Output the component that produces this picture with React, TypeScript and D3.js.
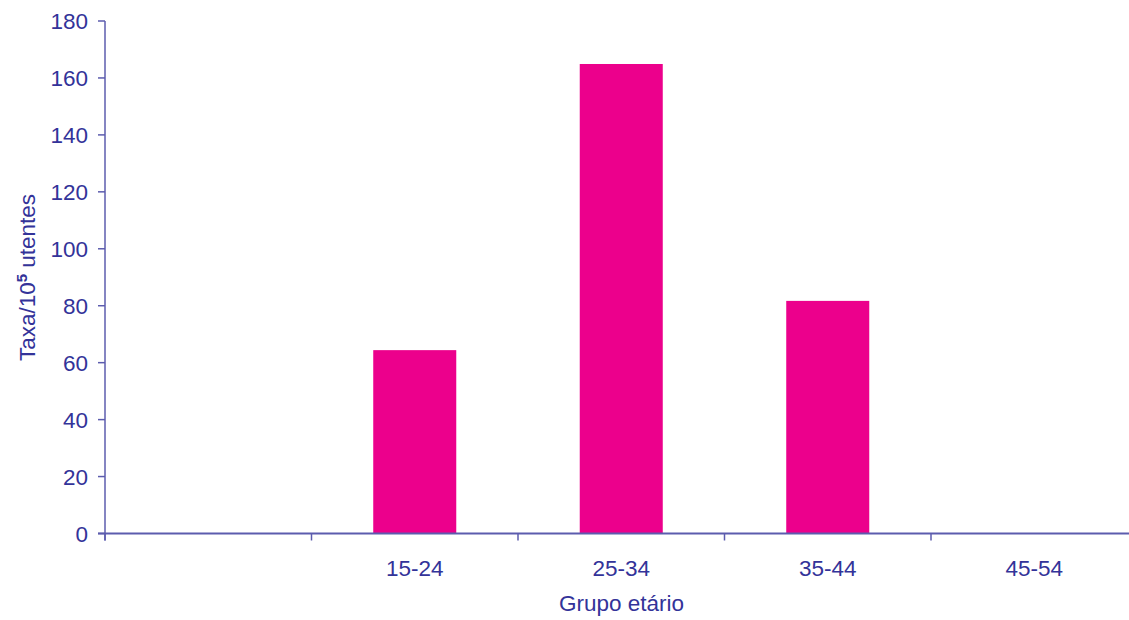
import React from "react";
import * as d3 from "d3";

const categories = ["", "15-24", "25-34", "35-44", "45-54"];
const values: (number | null)[] = [null, 64.4, 164.9, 81.7, 0];
const yTicks = [0, 20, 40, 60, 80, 100, 120, 140, 160, 180];

const W = 1129;
const H = 620;
const left = 105;
const top = 21;
const bottom = 533.5;
const rightEnd = 1137.5;

const textColor = "#333399";
const axisColor = "#5c5cae";
const barColor = "#EC008C";
const font = "Liberation Sans, Arial, sans-serif";
const fs = 22.5;

export default function App() {
  const x = d3.scaleBand<string>().domain(categories).range([left, rightEnd]).paddingInner(0).paddingOuter(0);
  const y = d3.scaleLinear().domain([0, 180]).range([bottom, top]);
  const bw = x.bandwidth();
  const barW = bw * 0.402;
  const boundaries = categories.map((c) => x(c)!).concat([rightEnd]);

  return (
    <svg
      width={W}
      height={H}
      style={{ position: "absolute", left: 0, top: 0, background: "#fff" }}
      fontFamily={font}
    >
      {/* bars */}
      {categories.map((c, i) => {
        const v = values[i];
        if (v == null || v <= 0) return null;
        const cx = x(c)! + bw / 2;
        return (
          <rect key={c} x={cx - barW / 2} y={y(v)} width={barW} height={y(0) - y(v)} fill={barColor} />
        );
      })}

      {/* y axis */}
      <line x1={left} x2={left} y1={top} y2={bottom + 7} stroke={axisColor} strokeWidth={1.5} />
      {yTicks.map((t) => (
        <g key={t}>
          <line x1={left - 7} x2={left} y1={y(t)} y2={y(t)} stroke={axisColor} strokeWidth={1.5} />
          <text x={88} y={y(t)} dy="0.36em" textAnchor="end" fontSize={fs} fill={textColor}>
            {t}
          </text>
        </g>
      ))}

      {/* x axis */}
      <line x1={left - 7} x2={rightEnd} y1={bottom} y2={bottom} stroke={axisColor} strokeWidth={2} />
      {boundaries.map((bx, i) => (
        <line key={i} x1={bx} x2={bx} y1={bottom} y2={bottom + 7} stroke={axisColor} strokeWidth={1.5} />
      ))}
      {categories.map((c) => (
        <text key={c} x={x(c)! + bw / 2} y={576} textAnchor="middle" fontSize={fs} fill={textColor}>
          {c}
        </text>
      ))}

      {/* axis titles */}
      <text x={621.5} y={611} textAnchor="middle" fontSize={fs} fill={textColor}>
        Grupo etário
      </text>
      <text
        transform={`translate(35, 277.5) rotate(-90)`}
        textAnchor="middle"
        fontSize={fs}
        fill={textColor}
      >
        Taxa/10
        <tspan fontSize={15} fontWeight="bold" dy={-8}>5</tspan>
        <tspan dy={8}> utentes</tspan>
      </text>
    </svg>
  );
}
